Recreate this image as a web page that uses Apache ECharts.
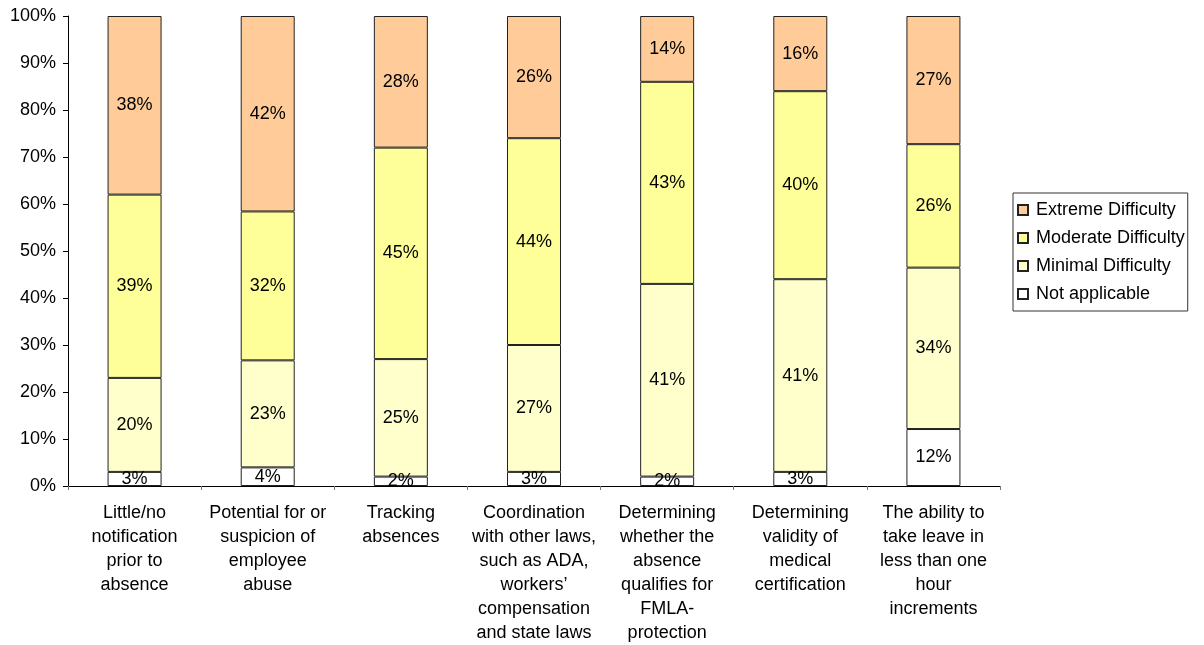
<!DOCTYPE html>
<html>
<head>
<meta charset="utf-8">
<script src="https://cdn.jsdelivr.net/npm/echarts@6/dist/echarts.min.js"></script>
<style>
  html, body { margin: 0; padding: 0; background: #fff; overflow: hidden; }
  #chart { width: 1204px; height: 645px; }
</style>
</head>
<body>
<div id="chart"></div>
<script>
// Survey categories (x axis)
const categories = [
  "Little/no\nnotification\nprior to\nabsence",
  "Potential for or\nsuspicion of\nemployee\nabuse",
  "Tracking\nabsences",
  "Coordination\nwith other laws,\nsuch as ADA,\nworkers’\ncompensation\nand state laws",
  "Determining\nwhether the\nabsence\nqualifies for\nFMLA-\nprotection",
  "Determining\nvalidity of\nmedical\ncertification",
  "The ability to\ntake leave in\nless than one\nhour\nincrements"
];

// Reported shares (%) per difficulty level
const notApplicable = [3, 4, 2, 3, 2, 3, 12];
const minimalDifficulty = [20, 23, 25, 27, 41, 41, 34];
const moderateDifficulty = [39, 32, 45, 44, 43, 40, 26];
const extremeDifficulty = [38, 42, 28, 26, 14, 16, 27];

const yTickLabels = [0, 10, 20, 30, 40, 50, 60, 70, 80, 90, 100];

const seriesDefs = [
  { name: "Not applicable", values: notApplicable, color: "#FFFFFF" },
  { name: "Minimal Difficulty", values: minimalDifficulty, color: "#FFFFCC" },
  { name: "Moderate Difficulty", values: moderateDifficulty, color: "#FFFF99" },
  { name: "Extreme Difficulty", values: extremeDifficulty, color: "#FFCC99" }
];

// Column totals, used to draw each column as a 100% stack
const totals = categories.map((_, i) =>
  seriesDefs.reduce((s, d) => s + d.values[i], 0));

const font = "'Liberation Sans', Arial, sans-serif";
const fs = 18;

const chart = echarts.init(document.getElementById("chart"), null, { renderer: "canvas" });

chart.setOption({
  animation: false,
  backgroundColor: "#fff",
  textStyle: { fontFamily: font, color: "#000" },
  grid: { left: 68, top: 16, width: 932, height: 473, containLabel: false },
  legend: {
    orient: "vertical",
    left: 1013,
    top: 193,
    data: ["Extreme Difficulty", "Moderate Difficulty", "Minimal Difficulty", "Not applicable"],
    itemWidth: 10,
    itemHeight: 10,
    itemGap: 10,
    padding: [8, 3, 8, 4],
    borderColor: "#333",
    borderWidth: 1,
    icon: "rect",
    textStyle: { fontFamily: font, fontSize: fs, color: "#000", padding: [0, 0, 0, 3] }
  },
  xAxis: {
    type: "category",
    data: categories,
    axisLine: { lineStyle: { color: "#000", width: 1 } },
    axisTick: { show: true, alignWithLabel: false, length: 4, lineStyle: { color: "#777" } },
    axisLabel: {
      interval: 0,
      margin: 15,
      fontSize: fs,
      lineHeight: 24,
      color: "#000",
      fontFamily: font,
      align: "center"
    },
    splitLine: { show: false }
  },
  yAxis: {
    type: "value",
    min: 0,
    max: 100,
    interval: 10,
    axisLine: { show: true, lineStyle: { color: "#000", width: 1 } },
    axisTick: { show: true, length: 5, lineStyle: { color: "#000" } },
    axisLabel: {
      fontSize: fs,
      color: "#000",
      fontFamily: font,
      margin: 12,
      formatter: v => (yTickLabels.includes(v) ? v + "%" : "")
    },
    splitLine: { show: false }
  },
  series: seriesDefs.map(d => ({
    name: d.name,
    type: "bar",
    stack: "total",
    barWidth: 54,
    itemStyle: { color: d.color, borderColor: "#222", borderWidth: 1 },
    label: {
      show: true,
      position: "inside",
      fontSize: fs,
      color: "#000",
      fontFamily: font,
      formatter: p => p.data.raw + "%"
    },
    data: d.values.map((v, i) => ({ value: v / totals[i] * 100, raw: v }))
  }))
});
</script>
</body>
</html>
